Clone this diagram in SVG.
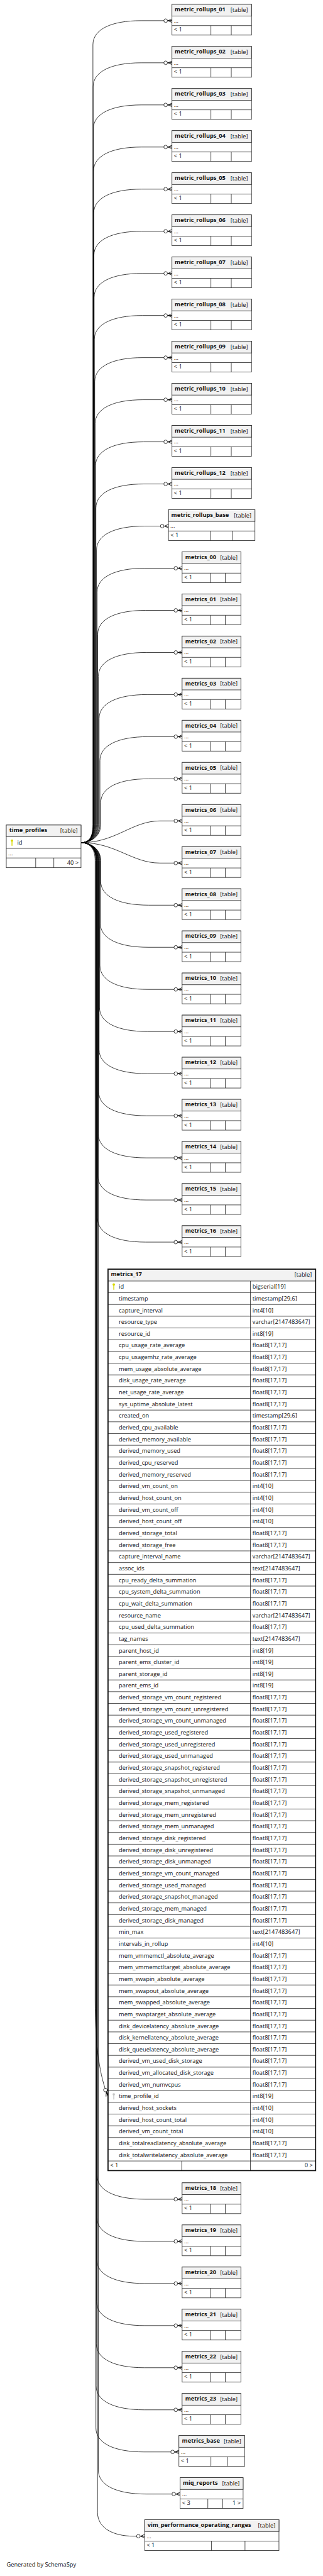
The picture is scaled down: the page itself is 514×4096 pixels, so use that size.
<svg xmlns="http://www.w3.org/2000/svg" xmlns:xlink="http://www.w3.org/1999/xlink" width="514" height="4096" viewBox="0 0 514 4096">
<defs>
<style>
.bx{fill:#fff;stroke:#262626;stroke-width:1.3}
.hd{fill:#f2f2f2;stroke:#262626;stroke-width:1.3}
.ln{fill:none;stroke:#262626;stroke-width:1.3}
.tx{font-family:"Open Sans","Noto Sans",sans-serif;font-size:14.6px;fill:#111}
.tb{font-family:"Open Sans","Noto Sans",sans-serif;font-size:14.6px;font-weight:bold;fill:#111}
.tr{font-family:"Open Sans","Noto Sans",sans-serif;font-size:14.6px;fill:#111;text-anchor:end}
.e{fill:none;stroke:#000;stroke-width:1.2;marker-end:url(#cf)}
</style>
<marker id="cf" markerUnits="userSpaceOnUse" viewBox="-22 -8 24 16" refX="0" refY="0" markerWidth="24" markerHeight="16" orient="auto" overflow="visible">
<path d="M-10,0L0,-4.5M-10,0L0,0M-10,0L0,4.5" fill="none" stroke="#000" stroke-width="1.3"/>
<circle cx="-15.8" cy="0" r="4.5" fill="#fff" stroke="#000" stroke-width="1.2"/>
</marker>
<g id="key"><circle cx="0" cy="0" r="3"/><rect x="-1.1" y="0" width="2.2" height="13"/></g>
</defs>
<g transform="scale(0.636)">
<rect x="0" y="0" width="807" height="6432" fill="#fff"/>
<g id="connectors">
<path class="e" d="M203.3,2106.7C222,2106.7 232.5,2094.7 232.5,2061.7L232.5,111.7C232.5,73.7 277.5,51.7 352.5,51.7L430.3,51.7"/>
<path class="e" d="M203.3,2106.7C222,2106.7 233,2094.7 233,2061.7L233,217C233,179 278,157 353,157L430.3,157"/>
<path class="e" d="M203.3,2106.7C222,2106.7 233.5,2094.7 233.5,2061.7L233.5,322.3C233.5,284.3 278.5,262.3 353.5,262.3L430.3,262.3"/>
<path class="e" d="M203.3,2106.7C222,2106.7 234,2094.7 234,2061.7L234,427.6C234,389.6 279,367.6 354,367.6L430.3,367.6"/>
<path class="e" d="M203.3,2106.7C222,2106.7 234.5,2094.7 234.5,2061.7L234.5,532.9C234.5,494.9 279.5,472.9 354.5,472.9L430.3,472.9"/>
<path class="e" d="M203.3,2106.7C222,2106.7 235,2094.7 235,2061.7L235,638.2C235,600.2 280,578.2 355,578.2L430.3,578.2"/>
<path class="e" d="M203.3,2106.7C222,2106.7 235.5,2094.7 235.5,2061.7L235.5,743.5C235.5,705.5 280.5,683.5 355.5,683.5L430.3,683.5"/>
<path class="e" d="M203.3,2106.7C222,2106.7 236,2094.7 236,2061.7L236,848.8C236,810.8 281,788.8 356,788.8L430.3,788.8"/>
<path class="e" d="M203.3,2106.7C222,2106.7 237,2094.7 237,2061.7L237,954.1C237,916.1 282,894.1 357,894.1L430.3,894.1"/>
<path class="e" d="M203.3,2106.7C222,2106.7 238,2094.7 238,2061.7L238,1059.4C238,1021.4 283,999.4 358,999.4L430.3,999.4"/>
<path class="e" d="M203.3,2106.7C222,2106.7 239,2094.7 239,2061.7L239,1164.7C239,1126.7 284,1104.7 359,1104.7L430.3,1104.7"/>
<path class="e" d="M203.3,2106.7C222,2106.7 240,2094.7 240,2061.7L240,1270C240,1232 285,1210 360,1210L430.3,1210"/>
<path class="e" d="M203.3,2106.7C222,2106.7 241.5,2094.7 241.5,2061.7L241.5,1375.3C241.5,1337.3 286.5,1315.3 361.5,1315.3L421.6,1315.3"/>
<path class="e" d="M203.3,2106.7C222,2106.7 243,2094.7 243,2061.7L243,1480.6C243,1442.6 288,1420.6 363,1420.6L455.7,1420.6"/>
<path class="e" d="M203.3,2106.7C222,2106.7 244.5,2094.7 244.5,2061.7L244.5,1585.9C244.5,1547.9 289.5,1525.9 364.5,1525.9L455.7,1525.9"/>
<path class="e" d="M203.3,2106.7C222,2106.7 246,2094.7 246,2061.7L246,1691.2C246,1653.2 291,1631.2 366,1631.2L455.7,1631.2"/>
<path class="e" d="M203.3,2106.7C222,2106.7 248,2094.7 248,2061.7L248,1796.5C248,1758.5 293,1736.5 368,1736.5L455.7,1736.5"/>
<path class="e" d="M203.3,2106.7C222,2106.7 250,2094.7 250,2061.7L250,1901.8C250,1863.8 295,1841.8 370,1841.8L455.7,1841.8"/>
<path class="e" d="M203.3,2106.7C222,2106.7 252,2094.7 252,2061.7L252,2007.1C252,1969.1 297,1947.1 372,1947.1L455.7,1947.1"/>
<path class="e" d="M203.3,2106.7C290,2106.7 330,2052.4 400,2052.4L455.7,2052.4"/>
<path class="e" d="M203.3,2106.7C290,2106.7 330,2157.7 400,2157.7L455.7,2157.7"/>
<path class="e" d="M203.3,2106.7C222,2106.7 252,2118.7 252,2151.7L252,2203C252,2241 297,2263 372,2263L455.7,2263"/>
<path class="e" d="M203.3,2106.7C222,2106.7 251,2118.7 251,2151.7L251,2308.3C251,2346.3 296,2368.3 371,2368.3L455.7,2368.3"/>
<path class="e" d="M203.3,2106.7C222,2106.7 250,2118.7 250,2151.7L250,2413.6C250,2451.6 295,2473.6 370,2473.6L455.7,2473.6"/>
<path class="e" d="M203.3,2106.7C222,2106.7 249,2118.7 249,2151.7L249,2518.9C249,2556.9 294,2578.9 369,2578.9L455.7,2578.9"/>
<path class="e" d="M203.3,2106.7C222,2106.7 248,2118.7 248,2151.7L248,2624.2C248,2662.2 293,2684.2 368,2684.2L455.7,2684.2"/>
<path class="e" d="M203.3,2106.7C222,2106.7 247,2118.7 247,2151.7L247,2729.5C247,2767.5 292,2789.5 367,2789.5L455.7,2789.5"/>
<path class="e" d="M203.3,2106.7C222,2106.7 246,2118.7 246,2151.7L246,2834.8C246,2872.8 291,2894.8 366,2894.8L455.7,2894.8"/>
<path class="e" d="M203.3,2106.7C222,2106.7 245,2118.7 245,2151.7L245,2940.1C245,2978.1 290,3000.1 365,3000.1L455.7,3000.1"/>
<path class="e" d="M203.3,2106.7C222,2106.7 244,2118.7 244,2151.7L244,3045.4C244,3083.4 289,3105.4 364,3105.4L455.7,3105.4"/>
<path class="e" d="M203.3,2106.7C222,2106.7 238,2118.7 238,2151.7L238,5000C238,5120 250,5190 269.5,5240"/>
<path class="e" d="M203.3,2106.7C222,2106.7 243,2118.7 243,2151.7L243,5438.3C243,5476.3 288,5498.3 363,5498.3L455.7,5498.3"/>
<path class="e" d="M203.3,2106.7C222,2106.7 242.5,2118.7 242.5,2151.7L242.5,5543.6C242.5,5581.6 287.5,5603.6 362.5,5603.6L455.7,5603.6"/>
<path class="e" d="M203.3,2106.7C222,2106.7 242,2118.7 242,2151.7L242,5648.9C242,5686.9 287,5708.9 362,5708.9L455.7,5708.9"/>
<path class="e" d="M203.3,2106.7C222,2106.7 241.5,2118.7 241.5,2151.7L241.5,5754.2C241.5,5792.2 286.5,5814.2 361.5,5814.2L455.7,5814.2"/>
<path class="e" d="M203.3,2106.7C222,2106.7 241,2118.7 241,2151.7L241,5859.5C241,5897.5 286,5919.5 361,5919.5L455.7,5919.5"/>
<path class="e" d="M203.3,2106.7C222,2106.7 240.5,2118.7 240.5,2151.7L240.5,5964.8C240.5,6002.8 285.5,6024.8 360.5,6024.8L455.7,6024.8"/>
<path class="e" d="M203.3,2106.7C222,2106.7 240,2118.7 240,2151.7L240,6070.1C240,6108.1 285,6130.1 360,6130.1L447.7,6130.1"/>
<path class="e" d="M203.3,2106.7C222,2106.7 246,2118.7 246,2151.7L246,6175.4C246,6213.4 291,6235.4 366,6235.4L450.7,6235.4"/>
<path class="e" d="M203.3,2106.7C222,2106.7 244,2118.7 244,2151.7L244,6280.7C244,6318.7 280,6340.7 335,6340.7L362,6340.7"/>
</g>

<g id="time_profiles">
<rect class="bx" x="15.7" y="2062.7" width="187" height="106.6"/>
<rect class="hd" x="15.7" y="2062.7" width="187" height="29"/>
<path class="ln" d="M15.7,2121H202.7M15.7,2145H202.7M89.3,2145V2169.3M134.7,2145V2169.3"/>
<text class="tb" x="23.3" y="2080">time_profiles</text>
<text class="tr" x="194.3" y="2081.5">[table]</text>
<use xlink:href="#key" x="30" y="2101.5" fill="#d8d800"/>
<text class="tx" x="43.3" y="2111">id</text>
<text class="tx" x="20.5" y="2138">...</text>
<text class="tr" x="196.7" y="2162">40 &gt;</text>
</g>

<g id="metric_rollups_01" transform="translate(430.3,10.7)"><rect class="bx" width="199" height="77"/><rect class="hd" width="199" height="29.3"/><path class="ln" d="M0,53.3H199M97.4,53.3V77M148.4,53.3V77"/><text class="tb" x="7" y="17.8">metric_rollups_01</text><text class="tr" x="190" y="19">[table]</text><text class="tx" x="4.7" y="45.5">...</text><text class="tx" x="5" y="68.6">&lt; 1</text></g>
<g id="metric_rollups_02" transform="translate(430.3,116)"><rect class="bx" width="199" height="77"/><rect class="hd" width="199" height="29.3"/><path class="ln" d="M0,53.3H199M97.4,53.3V77M148.4,53.3V77"/><text class="tb" x="7" y="17.8">metric_rollups_02</text><text class="tr" x="190" y="19">[table]</text><text class="tx" x="4.7" y="45.5">...</text><text class="tx" x="5" y="68.6">&lt; 1</text></g>
<g id="metric_rollups_03" transform="translate(430.3,221.3)"><rect class="bx" width="199" height="77"/><rect class="hd" width="199" height="29.3"/><path class="ln" d="M0,53.3H199M97.4,53.3V77M148.4,53.3V77"/><text class="tb" x="7" y="17.8">metric_rollups_03</text><text class="tr" x="190" y="19">[table]</text><text class="tx" x="4.7" y="45.5">...</text><text class="tx" x="5" y="68.6">&lt; 1</text></g>
<g id="metric_rollups_04" transform="translate(430.3,326.6)"><rect class="bx" width="199" height="77"/><rect class="hd" width="199" height="29.3"/><path class="ln" d="M0,53.3H199M97.4,53.3V77M148.4,53.3V77"/><text class="tb" x="7" y="17.8">metric_rollups_04</text><text class="tr" x="190" y="19">[table]</text><text class="tx" x="4.7" y="45.5">...</text><text class="tx" x="5" y="68.6">&lt; 1</text></g>
<g id="metric_rollups_05" transform="translate(430.3,431.9)"><rect class="bx" width="199" height="77"/><rect class="hd" width="199" height="29.3"/><path class="ln" d="M0,53.3H199M97.4,53.3V77M148.4,53.3V77"/><text class="tb" x="7" y="17.8">metric_rollups_05</text><text class="tr" x="190" y="19">[table]</text><text class="tx" x="4.7" y="45.5">...</text><text class="tx" x="5" y="68.6">&lt; 1</text></g>
<g id="metric_rollups_06" transform="translate(430.3,537.2)"><rect class="bx" width="199" height="77"/><rect class="hd" width="199" height="29.3"/><path class="ln" d="M0,53.3H199M97.4,53.3V77M148.4,53.3V77"/><text class="tb" x="7" y="17.8">metric_rollups_06</text><text class="tr" x="190" y="19">[table]</text><text class="tx" x="4.7" y="45.5">...</text><text class="tx" x="5" y="68.6">&lt; 1</text></g>
<g id="metric_rollups_07" transform="translate(430.3,642.5)"><rect class="bx" width="199" height="77"/><rect class="hd" width="199" height="29.3"/><path class="ln" d="M0,53.3H199M97.4,53.3V77M148.4,53.3V77"/><text class="tb" x="7" y="17.8">metric_rollups_07</text><text class="tr" x="190" y="19">[table]</text><text class="tx" x="4.7" y="45.5">...</text><text class="tx" x="5" y="68.6">&lt; 1</text></g>
<g id="metric_rollups_08" transform="translate(430.3,747.8)"><rect class="bx" width="199" height="77"/><rect class="hd" width="199" height="29.3"/><path class="ln" d="M0,53.3H199M97.4,53.3V77M148.4,53.3V77"/><text class="tb" x="7" y="17.8">metric_rollups_08</text><text class="tr" x="190" y="19">[table]</text><text class="tx" x="4.7" y="45.5">...</text><text class="tx" x="5" y="68.6">&lt; 1</text></g>
<g id="metric_rollups_09" transform="translate(430.3,853.1)"><rect class="bx" width="199" height="77"/><rect class="hd" width="199" height="29.3"/><path class="ln" d="M0,53.3H199M97.4,53.3V77M148.4,53.3V77"/><text class="tb" x="7" y="17.8">metric_rollups_09</text><text class="tr" x="190" y="19">[table]</text><text class="tx" x="4.7" y="45.5">...</text><text class="tx" x="5" y="68.6">&lt; 1</text></g>
<g id="metric_rollups_10" transform="translate(430.3,958.4)"><rect class="bx" width="199" height="77"/><rect class="hd" width="199" height="29.3"/><path class="ln" d="M0,53.3H199M97.4,53.3V77M148.4,53.3V77"/><text class="tb" x="7" y="17.8">metric_rollups_10</text><text class="tr" x="190" y="19">[table]</text><text class="tx" x="4.7" y="45.5">...</text><text class="tx" x="5" y="68.6">&lt; 1</text></g>
<g id="metric_rollups_11" transform="translate(430.3,1063.7)"><rect class="bx" width="199" height="77"/><rect class="hd" width="199" height="29.3"/><path class="ln" d="M0,53.3H199M97.4,53.3V77M148.4,53.3V77"/><text class="tb" x="7" y="17.8">metric_rollups_11</text><text class="tr" x="190" y="19">[table]</text><text class="tx" x="4.7" y="45.5">...</text><text class="tx" x="5" y="68.6">&lt; 1</text></g>
<g id="metric_rollups_12" transform="translate(430.3,1169)"><rect class="bx" width="199" height="77"/><rect class="hd" width="199" height="29.3"/><path class="ln" d="M0,53.3H199M97.4,53.3V77M148.4,53.3V77"/><text class="tb" x="7" y="17.8">metric_rollups_12</text><text class="tr" x="190" y="19">[table]</text><text class="tx" x="4.7" y="45.5">...</text><text class="tx" x="5" y="68.6">&lt; 1</text></g>
<g id="metric_rollups_base" transform="translate(421.6,1274.3)"><rect class="bx" width="216.3" height="77"/><rect class="hd" width="216.3" height="29.3"/><path class="ln" d="M0,53.3H216.3M105,53.3V77M160,53.3V77"/><text class="tb" x="7" y="17.8">metric_rollups_base</text><text class="tr" x="207.3" y="19">[table]</text><text class="tx" x="4.7" y="45.5">...</text><text class="tx" x="5" y="68.6">&lt; 1</text></g>

<g id="metrics_00" transform="translate(455.7,1379.6)"><rect class="bx" width="147" height="77"/><rect class="hd" width="147" height="29.3"/><path class="ln" d="M0,53.3H147M70.6,53.3V77M108,53.3V77"/><text class="tb" x="7.6" y="17.8">metrics_00</text><text class="tr" x="138.6" y="19">[table]</text><text class="tx" x="5" y="45.5">...</text><text class="tx" x="5" y="68.6">&lt; 1</text></g>
<g id="metrics_01" transform="translate(455.7,1484.9)"><rect class="bx" width="147" height="77"/><rect class="hd" width="147" height="29.3"/><path class="ln" d="M0,53.3H147M70.6,53.3V77M108,53.3V77"/><text class="tb" x="7.6" y="17.8">metrics_01</text><text class="tr" x="138.6" y="19">[table]</text><text class="tx" x="5" y="45.5">...</text><text class="tx" x="5" y="68.6">&lt; 1</text></g>
<g id="metrics_02" transform="translate(455.7,1590.2)"><rect class="bx" width="147" height="77"/><rect class="hd" width="147" height="29.3"/><path class="ln" d="M0,53.3H147M70.6,53.3V77M108,53.3V77"/><text class="tb" x="7.6" y="17.8">metrics_02</text><text class="tr" x="138.6" y="19">[table]</text><text class="tx" x="5" y="45.5">...</text><text class="tx" x="5" y="68.6">&lt; 1</text></g>
<g id="metrics_03" transform="translate(455.7,1695.5)"><rect class="bx" width="147" height="77"/><rect class="hd" width="147" height="29.3"/><path class="ln" d="M0,53.3H147M70.6,53.3V77M108,53.3V77"/><text class="tb" x="7.6" y="17.8">metrics_03</text><text class="tr" x="138.6" y="19">[table]</text><text class="tx" x="5" y="45.5">...</text><text class="tx" x="5" y="68.6">&lt; 1</text></g>
<g id="metrics_04" transform="translate(455.7,1800.8)"><rect class="bx" width="147" height="77"/><rect class="hd" width="147" height="29.3"/><path class="ln" d="M0,53.3H147M70.6,53.3V77M108,53.3V77"/><text class="tb" x="7.6" y="17.8">metrics_04</text><text class="tr" x="138.6" y="19">[table]</text><text class="tx" x="5" y="45.5">...</text><text class="tx" x="5" y="68.6">&lt; 1</text></g>
<g id="metrics_05" transform="translate(455.7,1906.1)"><rect class="bx" width="147" height="77"/><rect class="hd" width="147" height="29.3"/><path class="ln" d="M0,53.3H147M70.6,53.3V77M108,53.3V77"/><text class="tb" x="7.6" y="17.8">metrics_05</text><text class="tr" x="138.6" y="19">[table]</text><text class="tx" x="5" y="45.5">...</text><text class="tx" x="5" y="68.6">&lt; 1</text></g>
<g id="metrics_06" transform="translate(455.7,2011.4)"><rect class="bx" width="147" height="77"/><rect class="hd" width="147" height="29.3"/><path class="ln" d="M0,53.3H147M70.6,53.3V77M108,53.3V77"/><text class="tb" x="7.6" y="17.8">metrics_06</text><text class="tr" x="138.6" y="19">[table]</text><text class="tx" x="5" y="45.5">...</text><text class="tx" x="5" y="68.6">&lt; 1</text></g>
<g id="metrics_07" transform="translate(455.7,2116.7)"><rect class="bx" width="147" height="77"/><rect class="hd" width="147" height="29.3"/><path class="ln" d="M0,53.3H147M70.6,53.3V77M108,53.3V77"/><text class="tb" x="7.6" y="17.8">metrics_07</text><text class="tr" x="138.6" y="19">[table]</text><text class="tx" x="5" y="45.5">...</text><text class="tx" x="5" y="68.6">&lt; 1</text></g>
<g id="metrics_08" transform="translate(455.7,2222)"><rect class="bx" width="147" height="77"/><rect class="hd" width="147" height="29.3"/><path class="ln" d="M0,53.3H147M70.6,53.3V77M108,53.3V77"/><text class="tb" x="7.6" y="17.8">metrics_08</text><text class="tr" x="138.6" y="19">[table]</text><text class="tx" x="5" y="45.5">...</text><text class="tx" x="5" y="68.6">&lt; 1</text></g>
<g id="metrics_09" transform="translate(455.7,2327.3)"><rect class="bx" width="147" height="77"/><rect class="hd" width="147" height="29.3"/><path class="ln" d="M0,53.3H147M70.6,53.3V77M108,53.3V77"/><text class="tb" x="7.6" y="17.8">metrics_09</text><text class="tr" x="138.6" y="19">[table]</text><text class="tx" x="5" y="45.5">...</text><text class="tx" x="5" y="68.6">&lt; 1</text></g>
<g id="metrics_10" transform="translate(455.7,2432.6)"><rect class="bx" width="147" height="77"/><rect class="hd" width="147" height="29.3"/><path class="ln" d="M0,53.3H147M70.6,53.3V77M108,53.3V77"/><text class="tb" x="7.6" y="17.8">metrics_10</text><text class="tr" x="138.6" y="19">[table]</text><text class="tx" x="5" y="45.5">...</text><text class="tx" x="5" y="68.6">&lt; 1</text></g>
<g id="metrics_11" transform="translate(455.7,2537.9)"><rect class="bx" width="147" height="77"/><rect class="hd" width="147" height="29.3"/><path class="ln" d="M0,53.3H147M70.6,53.3V77M108,53.3V77"/><text class="tb" x="7.6" y="17.8">metrics_11</text><text class="tr" x="138.6" y="19">[table]</text><text class="tx" x="5" y="45.5">...</text><text class="tx" x="5" y="68.6">&lt; 1</text></g>
<g id="metrics_12" transform="translate(455.7,2643.2)"><rect class="bx" width="147" height="77"/><rect class="hd" width="147" height="29.3"/><path class="ln" d="M0,53.3H147M70.6,53.3V77M108,53.3V77"/><text class="tb" x="7.6" y="17.8">metrics_12</text><text class="tr" x="138.6" y="19">[table]</text><text class="tx" x="5" y="45.5">...</text><text class="tx" x="5" y="68.6">&lt; 1</text></g>
<g id="metrics_13" transform="translate(455.7,2748.5)"><rect class="bx" width="147" height="77"/><rect class="hd" width="147" height="29.3"/><path class="ln" d="M0,53.3H147M70.6,53.3V77M108,53.3V77"/><text class="tb" x="7.6" y="17.8">metrics_13</text><text class="tr" x="138.6" y="19">[table]</text><text class="tx" x="5" y="45.5">...</text><text class="tx" x="5" y="68.6">&lt; 1</text></g>
<g id="metrics_14" transform="translate(455.7,2853.8)"><rect class="bx" width="147" height="77"/><rect class="hd" width="147" height="29.3"/><path class="ln" d="M0,53.3H147M70.6,53.3V77M108,53.3V77"/><text class="tb" x="7.6" y="17.8">metrics_14</text><text class="tr" x="138.6" y="19">[table]</text><text class="tx" x="5" y="45.5">...</text><text class="tx" x="5" y="68.6">&lt; 1</text></g>
<g id="metrics_15" transform="translate(455.7,2959.1)"><rect class="bx" width="147" height="77"/><rect class="hd" width="147" height="29.3"/><path class="ln" d="M0,53.3H147M70.6,53.3V77M108,53.3V77"/><text class="tb" x="7.6" y="17.8">metrics_15</text><text class="tr" x="138.6" y="19">[table]</text><text class="tx" x="5" y="45.5">...</text><text class="tx" x="5" y="68.6">&lt; 1</text></g>
<g id="metrics_16" transform="translate(455.7,3064.4)"><rect class="bx" width="147" height="77"/><rect class="hd" width="147" height="29.3"/><path class="ln" d="M0,53.3H147M70.6,53.3V77M108,53.3V77"/><text class="tb" x="7.6" y="17.8">metrics_16</text><text class="tr" x="138.6" y="19">[table]</text><text class="tx" x="5" y="45.5">...</text><text class="tx" x="5" y="68.6">&lt; 1</text></g>

<g id="metrics_17">
<rect x="270.3" y="3173" width="519.4" height="2253.7" fill="#fff"/>
<rect x="270.3" y="3173" width="519.4" height="29.7" fill="#f2f2f2"/>
<path class="ln" d="M270.3,3202.7h519.4m-519.4,29.333h519.4m-519.4,29.333h519.4m-519.4,29.333h519.4m-519.4,29.333h519.4m-519.4,29.333h519.4
m-519.4,29.333h519.4m-519.4,29.333h519.4m-519.4,29.333h519.4m-519.4,29.333h519.4m-519.4,29.333h519.4
m-519.4,29.333h519.4m-519.4,29.333h519.4m-519.4,29.333h519.4m-519.4,29.333h519.4m-519.4,29.333h519.4
m-519.4,29.333h519.4m-519.4,29.333h519.4m-519.4,29.333h519.4m-519.4,29.333h519.4m-519.4,29.333h519.4
m-519.4,29.333h519.4m-519.4,29.333h519.4m-519.4,29.333h519.4m-519.4,29.333h519.4m-519.4,29.333h519.4
m-519.4,29.333h519.4m-519.4,29.333h519.4m-519.4,29.333h519.4m-519.4,29.333h519.4m-519.4,29.333h519.4
m-519.4,29.333h519.4m-519.4,29.333h519.4m-519.4,29.333h519.4m-519.4,29.333h519.4m-519.4,29.333h519.4
m-519.4,29.333h519.4m-519.4,29.333h519.4m-519.4,29.333h519.4m-519.4,29.333h519.4m-519.4,29.333h519.4
m-519.4,29.333h519.4m-519.4,29.333h519.4m-519.4,29.333h519.4m-519.4,29.333h519.4m-519.4,29.333h519.4
m-519.4,29.333h519.4m-519.4,29.333h519.4m-519.4,29.333h519.4m-519.4,29.333h519.4m-519.4,29.333h519.4
m-519.4,29.333h519.4m-519.4,29.333h519.4m-519.4,29.333h519.4m-519.4,29.333h519.4m-519.4,29.333h519.4
m-519.4,29.333h519.4m-519.4,29.333h519.4m-519.4,29.333h519.4m-519.4,29.333h519.4m-519.4,29.333h519.4
m-519.4,29.333h519.4m-519.4,29.333h519.4m-519.4,29.333h519.4m-519.4,29.333h519.4m-519.4,29.333h519.4
m-519.4,29.333h519.4m-519.4,29.333h519.4m-519.4,29.333h519.4m-519.4,29.333h519.4m-519.4,29.333h519.4
m-519.4,29.333h519.4m-519.4,29.333h519.4m-519.4,29.333h519.4m-519.4,29.333h519.4m-519.4,29.333h519.4
M626.7,3202.7V5426.7M454.7,5402.7V5426.7"/>
<rect x="270.3" y="3173" width="519.4" height="2253.7" fill="none" stroke="#111" stroke-width="2.8"/>
<text class="tb" x="277.5" y="3190">metrics_17</text>
<text class="tr" x="780.2" y="3192">[table]</text>
<use xlink:href="#key" x="284.7" y="3211.5" fill="#d8d800"/>
<use xlink:href="#key" x="284.7" y="5236" fill="#c4c4c4"/>
<g class="tx">
<text x="297.3" y="3222">id</text><text x="631.8" y="3222">bigserial[19]</text>
<text x="297.3" y="3251.3">timestamp</text><text x="631.8" y="3251.3">timestamp[29,6]</text>
<text x="297.3" y="3280.7">capture_interval</text><text x="631.8" y="3280.7">int4[10]</text>
<text x="297.3" y="3310">resource_type</text><text x="631.8" y="3310">varchar[2147483647]</text>
<text x="297.3" y="3339.3">resource_id</text><text x="631.8" y="3339.3">int8[19]</text>
<text x="297.3" y="3368.7">cpu_usage_rate_average</text><text x="631.8" y="3368.7">float8[17,17]</text>
<text x="297.3" y="3398">cpu_usagemhz_rate_average</text><text x="631.8" y="3398">float8[17,17]</text>
<text x="297.3" y="3427.3">mem_usage_absolute_average</text><text x="631.8" y="3427.3">float8[17,17]</text>
<text x="297.3" y="3456.7">disk_usage_rate_average</text><text x="631.8" y="3456.7">float8[17,17]</text>
<text x="297.3" y="3486">net_usage_rate_average</text><text x="631.8" y="3486">float8[17,17]</text>
<text x="297.3" y="3515.3">sys_uptime_absolute_latest</text><text x="631.8" y="3515.3">float8[17,17]</text>
<text x="297.3" y="3544.7">created_on</text><text x="631.8" y="3544.7">timestamp[29,6]</text>
<text x="297.3" y="3574">derived_cpu_available</text><text x="631.8" y="3574">float8[17,17]</text>
<text x="297.3" y="3603.3">derived_memory_available</text><text x="631.8" y="3603.3">float8[17,17]</text>
<text x="297.3" y="3632.7">derived_memory_used</text><text x="631.8" y="3632.7">float8[17,17]</text>
<text x="297.3" y="3662">derived_cpu_reserved</text><text x="631.8" y="3662">float8[17,17]</text>
<text x="297.3" y="3691.3">derived_memory_reserved</text><text x="631.8" y="3691.3">float8[17,17]</text>
<text x="297.3" y="3720.7">derived_vm_count_on</text><text x="631.8" y="3720.7">int4[10]</text>
<text x="297.3" y="3750">derived_host_count_on</text><text x="631.8" y="3750">int4[10]</text>
<text x="297.3" y="3779.3">derived_vm_count_off</text><text x="631.8" y="3779.3">int4[10]</text>
<text x="297.3" y="3808.7">derived_host_count_off</text><text x="631.8" y="3808.7">int4[10]</text>
<text x="297.3" y="3838">derived_storage_total</text><text x="631.8" y="3838">float8[17,17]</text>
<text x="297.3" y="3867.3">derived_storage_free</text><text x="631.8" y="3867.3">float8[17,17]</text>
<text x="297.3" y="3896.7">capture_interval_name</text><text x="631.8" y="3896.7">varchar[2147483647]</text>
<text x="297.3" y="3926">assoc_ids</text><text x="631.8" y="3926">text[2147483647]</text>
<text x="297.3" y="3955.3">cpu_ready_delta_summation</text><text x="631.8" y="3955.3">float8[17,17]</text>
<text x="297.3" y="3984.7">cpu_system_delta_summation</text><text x="631.8" y="3984.7">float8[17,17]</text>
<text x="297.3" y="4014">cpu_wait_delta_summation</text><text x="631.8" y="4014">float8[17,17]</text>
<text x="297.3" y="4043.3">resource_name</text><text x="631.8" y="4043.3">varchar[2147483647]</text>
<text x="297.3" y="4072.7">cpu_used_delta_summation</text><text x="631.8" y="4072.7">float8[17,17]</text>
<text x="297.3" y="4102">tag_names</text><text x="631.8" y="4102">text[2147483647]</text>
<text x="297.3" y="4131.3">parent_host_id</text><text x="631.8" y="4131.3">int8[19]</text>
<text x="297.3" y="4160.7">parent_ems_cluster_id</text><text x="631.8" y="4160.7">int8[19]</text>
<text x="297.3" y="4190">parent_storage_id</text><text x="631.8" y="4190">int8[19]</text>
<text x="297.3" y="4219.3">parent_ems_id</text><text x="631.8" y="4219.3">int8[19]</text>
<text x="297.3" y="4248.7">derived_storage_vm_count_registered</text><text x="631.8" y="4248.7">float8[17,17]</text>
<text x="297.3" y="4278">derived_storage_vm_count_unregistered</text><text x="631.8" y="4278">float8[17,17]</text>
<text x="297.3" y="4307.3">derived_storage_vm_count_unmanaged</text><text x="631.8" y="4307.3">float8[17,17]</text>
<text x="297.3" y="4336.7">derived_storage_used_registered</text><text x="631.8" y="4336.7">float8[17,17]</text>
<text x="297.3" y="4366">derived_storage_used_unregistered</text><text x="631.8" y="4366">float8[17,17]</text>
<text x="297.3" y="4395.3">derived_storage_used_unmanaged</text><text x="631.8" y="4395.3">float8[17,17]</text>
<text x="297.3" y="4424.7">derived_storage_snapshot_registered</text><text x="631.8" y="4424.7">float8[17,17]</text>
<text x="297.3" y="4454">derived_storage_snapshot_unregistered</text><text x="631.8" y="4454">float8[17,17]</text>
<text x="297.3" y="4483.3">derived_storage_snapshot_unmanaged</text><text x="631.8" y="4483.3">float8[17,17]</text>
<text x="297.3" y="4512.7">derived_storage_mem_registered</text><text x="631.8" y="4512.7">float8[17,17]</text>
<text x="297.3" y="4542">derived_storage_mem_unregistered</text><text x="631.8" y="4542">float8[17,17]</text>
<text x="297.3" y="4571.3">derived_storage_mem_unmanaged</text><text x="631.8" y="4571.3">float8[17,17]</text>
<text x="297.3" y="4600.7">derived_storage_disk_registered</text><text x="631.8" y="4600.7">float8[17,17]</text>
<text x="297.3" y="4630">derived_storage_disk_unregistered</text><text x="631.8" y="4630">float8[17,17]</text>
<text x="297.3" y="4659.3">derived_storage_disk_unmanaged</text><text x="631.8" y="4659.3">float8[17,17]</text>
<text x="297.3" y="4688.7">derived_storage_vm_count_managed</text><text x="631.8" y="4688.7">float8[17,17]</text>
<text x="297.3" y="4718">derived_storage_used_managed</text><text x="631.8" y="4718">float8[17,17]</text>
<text x="297.3" y="4747.3">derived_storage_snapshot_managed</text><text x="631.8" y="4747.3">float8[17,17]</text>
<text x="297.3" y="4776.7">derived_storage_mem_managed</text><text x="631.8" y="4776.7">float8[17,17]</text>
<text x="297.3" y="4806">derived_storage_disk_managed</text><text x="631.8" y="4806">float8[17,17]</text>
<text x="297.3" y="4835.3">min_max</text><text x="631.8" y="4835.3">text[2147483647]</text>
<text x="297.3" y="4864.7">intervals_in_rollup</text><text x="631.8" y="4864.7">int4[10]</text>
<text x="297.3" y="4894">mem_vmmemctl_absolute_average</text><text x="631.8" y="4894">float8[17,17]</text>
<text x="297.3" y="4923.3">mem_vmmemctltarget_absolute_average</text><text x="631.8" y="4923.3">float8[17,17]</text>
<text x="297.3" y="4952.7">mem_swapin_absolute_average</text><text x="631.8" y="4952.7">float8[17,17]</text>
<text x="297.3" y="4982">mem_swapout_absolute_average</text><text x="631.8" y="4982">float8[17,17]</text>
<text x="297.3" y="5011.3">mem_swapped_absolute_average</text><text x="631.8" y="5011.3">float8[17,17]</text>
<text x="297.3" y="5040.7">mem_swaptarget_absolute_average</text><text x="631.8" y="5040.7">float8[17,17]</text>
<text x="297.3" y="5070">disk_devicelatency_absolute_average</text><text x="631.8" y="5070">float8[17,17]</text>
<text x="297.3" y="5099.3">disk_kernellatency_absolute_average</text><text x="631.8" y="5099.3">float8[17,17]</text>
<text x="297.3" y="5128.7">disk_queuelatency_absolute_average</text><text x="631.8" y="5128.7">float8[17,17]</text>
<text x="297.3" y="5158">derived_vm_used_disk_storage</text><text x="631.8" y="5158">float8[17,17]</text>
<text x="297.3" y="5187.3">derived_vm_allocated_disk_storage</text><text x="631.8" y="5187.3">float8[17,17]</text>
<text x="297.3" y="5216.7">derived_vm_numvcpus</text><text x="631.8" y="5216.7">float8[17,17]</text>
<text x="297.3" y="5246">time_profile_id</text><text x="631.8" y="5246">int8[19]</text>
<text x="297.3" y="5275.3">derived_host_sockets</text><text x="631.8" y="5275.3">int4[10]</text>
<text x="297.3" y="5304.7">derived_host_count_total</text><text x="631.8" y="5304.7">int4[10]</text>
<text x="297.3" y="5334">derived_vm_count_total</text><text x="631.8" y="5334">int4[10]</text>
<text x="297.3" y="5363.3">disk_totalreadlatency_absolute_average</text><text x="631.8" y="5363.3">float8[17,17]</text>
<text x="297.3" y="5392.7">disk_totalwritelatency_absolute_average</text><text x="631.8" y="5392.7">float8[17,17]</text>
<text x="275.6" y="5418.3">&lt; 1</text>
</g>
<text class="tr" x="782.6" y="5418.3">0 &gt;</text>
</g>

<g id="metrics_18" transform="translate(455.7,5457.3)"><rect class="bx" width="147" height="77"/><rect class="hd" width="147" height="29.3"/><path class="ln" d="M0,53.3H147M70.6,53.3V77M108,53.3V77"/><text class="tb" x="7.6" y="17.8">metrics_18</text><text class="tr" x="138.6" y="19">[table]</text><text class="tx" x="5" y="45.5">...</text><text class="tx" x="5" y="68.6">&lt; 1</text></g>
<g id="metrics_19" transform="translate(455.7,5562.6)"><rect class="bx" width="147" height="77"/><rect class="hd" width="147" height="29.3"/><path class="ln" d="M0,53.3H147M70.6,53.3V77M108,53.3V77"/><text class="tb" x="7.6" y="17.8">metrics_19</text><text class="tr" x="138.6" y="19">[table]</text><text class="tx" x="5" y="45.5">...</text><text class="tx" x="5" y="68.6">&lt; 1</text></g>
<g id="metrics_20" transform="translate(455.7,5667.9)"><rect class="bx" width="147" height="77"/><rect class="hd" width="147" height="29.3"/><path class="ln" d="M0,53.3H147M70.6,53.3V77M108,53.3V77"/><text class="tb" x="7.6" y="17.8">metrics_20</text><text class="tr" x="138.6" y="19">[table]</text><text class="tx" x="5" y="45.5">...</text><text class="tx" x="5" y="68.6">&lt; 1</text></g>
<g id="metrics_21" transform="translate(455.7,5773.2)"><rect class="bx" width="147" height="77"/><rect class="hd" width="147" height="29.3"/><path class="ln" d="M0,53.3H147M70.6,53.3V77M108,53.3V77"/><text class="tb" x="7.6" y="17.8">metrics_21</text><text class="tr" x="138.6" y="19">[table]</text><text class="tx" x="5" y="45.5">...</text><text class="tx" x="5" y="68.6">&lt; 1</text></g>
<g id="metrics_22" transform="translate(455.7,5878.5)"><rect class="bx" width="147" height="77"/><rect class="hd" width="147" height="29.3"/><path class="ln" d="M0,53.3H147M70.6,53.3V77M108,53.3V77"/><text class="tb" x="7.6" y="17.8">metrics_22</text><text class="tr" x="138.6" y="19">[table]</text><text class="tx" x="5" y="45.5">...</text><text class="tx" x="5" y="68.6">&lt; 1</text></g>
<g id="metrics_23" transform="translate(455.7,5983.8)"><rect class="bx" width="147" height="77"/><rect class="hd" width="147" height="29.3"/><path class="ln" d="M0,53.3H147M70.6,53.3V77M108,53.3V77"/><text class="tb" x="7.6" y="17.8">metrics_23</text><text class="tr" x="138.6" y="19">[table]</text><text class="tx" x="5" y="45.5">...</text><text class="tx" x="5" y="68.6">&lt; 1</text></g>
<g id="metrics_base" transform="translate(447.7,6089.1)"><rect class="bx" width="164.3" height="77"/><rect class="hd" width="164.3" height="29.3"/><path class="ln" d="M0,53.3H164.3M80,53.3V77M121.6,53.3V77"/><text class="tb" x="7.6" y="17.8">metrics_base</text><text class="tr" x="155.6" y="19">[table]</text><text class="tx" x="5" y="45.5">...</text><text class="tx" x="5" y="68.6">&lt; 1</text></g>
<g id="miq_reports" transform="translate(450.7,6194.4)"><rect class="bx" width="157.6" height="77"/><rect class="hd" width="157.6" height="29.3"/><path class="ln" d="M0,53.3H157.6M69.3,53.3V77M106.6,53.3V77"/><text class="tb" x="6.7" y="17.8">miq_reports</text><text class="tr" x="148.8" y="19">[table]</text><text class="tx" x="5" y="45.5">...</text><text class="tx" x="5" y="68.6">&lt; 3</text><text class="tr" x="151.6" y="68.6">1 &gt;</text></g>
<g id="vim_performance_operating_ranges" transform="translate(362,6299.7)"><rect class="bx" width="336" height="77"/><rect class="hd" width="336" height="29.3"/><path class="ln" d="M0,53.3H336M167,53.3V77M251,53.3V77"/><text class="tb" x="7" y="17.8">vim_performance_operating_ranges</text><text class="tr" x="327" y="19">[table]</text><text class="tx" x="5" y="45.5">...</text><text class="tx" x="5" y="68.6">&lt; 1</text></g>

<text class="tx" x="16.5" y="6416.7">Generated by SchemaSpy</text>
</g>
</svg>
